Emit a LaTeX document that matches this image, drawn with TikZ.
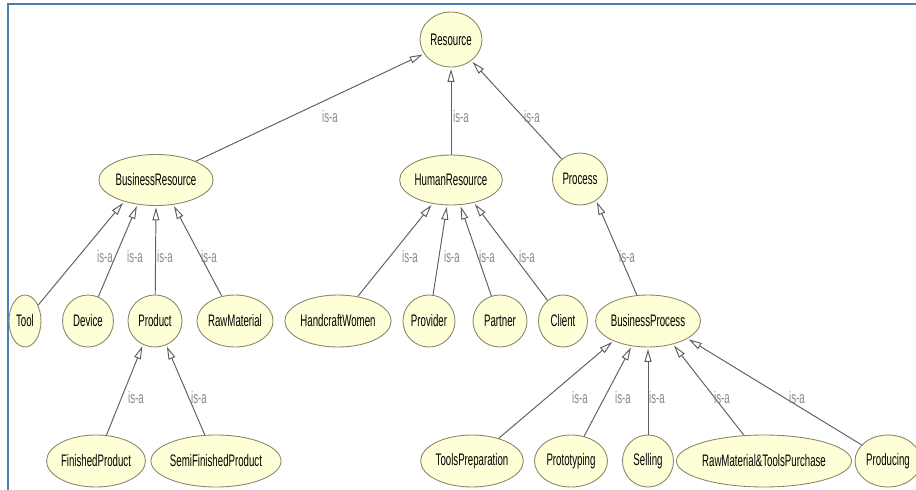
\documentclass[tikz,border=0pt]{standalone}
\usepackage{fontspec}
\newfontfamily\owlfont[FakeStretch=0.58]{Liberation Sans}
\usetikzlibrary{shapes.geometric,arrows.meta}
\definecolor{owlfill}{RGB}{255,255,215}
\definecolor{owlline}{RGB}{135,135,105}
\definecolor{isaline}{RGB}{95,95,95}
\definecolor{isatext}{RGB}{135,135,135}
\definecolor{frameblue}{RGB}{74,126,187}

\begin{document}
\begin{tikzpicture}[x=0.02cm,y=-0.02cm,
		cls/.style 2 args={ellipse,draw=owlline,fill=owlfill,line width=0.5pt,inner sep=0pt,
			minimum width=#1*0.02cm,minimum height=#2*0.02cm,
			font=\owlfont\fontsize{9.5}{11}\selectfont},
		isa/.style={draw=isaline,line width=0.55pt,shorten >=0.03cm,
			-{Triangle[open,length=0.26cm,width=0.14cm]}},
		lbl/.style={text=isatext,inner sep=0pt,font=\owlfont\fontsize{9.5}{11}\selectfont}]
		\clip (0,0) rectangle (916,490);
		\draw[frameblue,line width=1.1pt] (916,4) -- (8,4) -- (8,490);
		%
		\node[cls={62}{55}] (res) at (451,39.5) {Resource};
		\node[cls={102}{51}] (bres) at (156,180) {BusinessResource};
		\node[cls={96}{50}] (hres) at (451,180) {HumanResource};
		\node[cls={55}{52}] (proc) at (580,179) {Process};
		%
		\node[cls={32}{52}] (tool) at (25,321) {Tool};
		\node[cls={51}{52}] (dev) at (88,321) {Device};
		\node[cls={54}{52}] (prod) at (155,321) {Product};
		\node[cls={75}{52}] (rawm) at (235,321) {RawMaterial};
		\node[cls={101}{52}] (hcw) at (338,321) {HandcraftWomen};
		\node[cls={52}{52}] (prov) at (429,321) {Provider};
		\node[cls={54}{52}] (part) at (500,321) {Partner};
		\node[cls={49}{52}] (cli) at (563,321) {Client};
		\node[cls={95}{52}] (bproc) at (648,321) {BusinessProcess};
		%
		\node[cls={97}{52}] (fin) at (96,461) {FinishedProduct};
		\node[cls={120}{52}] (semi) at (216,461) {SemiFinishedProduct};
		\node[cls={101}{52}] (tprep) at (472,461) {ToolsPreparation};
		\node[cls={73}{52}] (proto) at (571,461) {Prototyping};
		\node[cls={51}{52}] (sell) at (648,461) {Selling};
		\node[cls={151}{52}] (rmtp) at (764,461) {RawMaterial\&ToolsPurchase};
		\node[cls={66}{52}] (prodg) at (888,461) {Producing};
		%
		\draw[isa] (bres) -- (res.208) node[lbl] at (330,117) {is-a};
		\draw[isa] (hres) -- (res.270) node[lbl] at (461,117) {is-a};
		\draw[isa] (proc) -- (res.314) node[lbl] at (532,117) {is-a};
		\draw[isa] (tool) -- (bres.214) node[lbl] at (105,257) {is-a};
		\draw[isa] (dev) -- (bres.233) node[lbl] at (135,257) {is-a};
		\draw[isa] (prod) -- (bres.270) node[lbl] at (165,257) {is-a};
		\draw[isa] (rawm) -- (bres.305) node[lbl] at (209,257) {is-a};
		\draw[isa] (hcw) -- (hres.232) node[lbl] at (410,257) {is-a};
		\draw[isa] (prov) -- (hres.261) node[lbl] at (452,257) {is-a};
		\draw[isa] (part) -- (hres.290) node[lbl] at (487,257) {is-a};
		\draw[isa] (cli) -- (hres.315) node[lbl] at (527,257) {is-a};
		\draw[isa] (bproc) -- (proc.307) node[lbl] at (627,257) {is-a};
		\draw[isa] (fin) -- (prod.243) node[lbl] at (136,398) {is-a};
		\draw[isa] (semi) -- (prod.295) node[lbl] at (199,398) {is-a};
		\draw[isa] (tprep) -- (bproc.210) node[lbl] at (580,398) {is-a};
		\draw[isa] (proto) -- (bproc.237) node[lbl] at (623,398) {is-a};
		\draw[isa] (sell) -- (bproc.270) node[lbl] at (657,398) {is-a};
		\draw[isa] (rmtp) -- (bproc.317) node[lbl] at (722,398) {is-a};
		\draw[isa] (prodg) -- (bproc.336) node[lbl] at (797,398) {is-a};
	\end{tikzpicture}
\end{document}
